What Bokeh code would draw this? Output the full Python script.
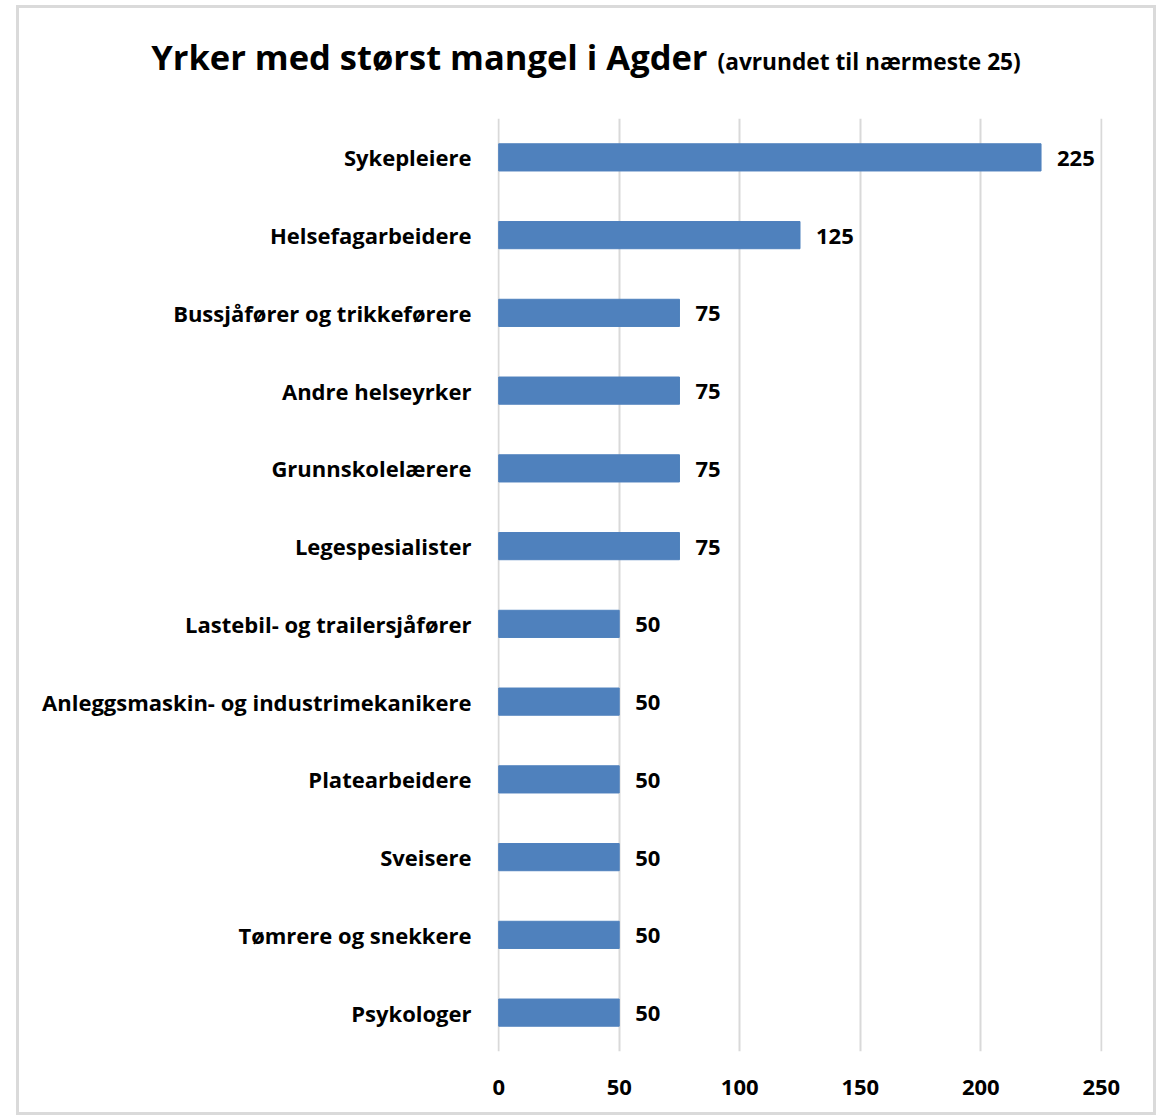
from bokeh.plotting import figure
from bokeh.layouts import column
from bokeh.models import ColumnDataSource, FactorRange, Range1d, FixedTicker, LabelSet, Div
from bokeh.core.properties import value
from bokeh.embed import file_html
from bokeh.resources import INLINE

categories = ["Sykepleiere", "Helsefagarbeidere", "Bussjåfører og trikkeførere",
              "Andre helseyrker", "Grunnskolelærere", "Legespesialister",
              "Lastebil- og trailersjåfører", "Anleggsmaskin- og industrimekanikere",
              "Platearbeidere", "Sveisere", "Tømrere og snekkere", "Psykologer"]
values = [225, 125, 75, 75, 75, 75, 50, 50, 50, 50, 50, 50]
x_ticks = [0, 50, 100, 150, 200, 250]
title_main = "Yrker med størst mangel i Agder"
title_sub = "(avrundet til nærmeste 25)"

FONT = "Open Sans"
BAR = "#4f81bd"
GRID = "#d9d9d9"
W = 1134

# ---- title ----
title_html = (
    f'<div style="width:{W}px;text-align:center;padding-top:24px;'
    f"font-family:'{FONT}';font-weight:bold;font-size:34.5px;color:#000000;white-space:nowrap;\">"
    f'{title_main}<span style="font-size:22.7px;margin-left:10px;">{title_sub}</span></div>'
)
t = Div(text=title_html, width=W, height=110, margin=0)

# ---- chart ----
source = ColumnDataSource(dict(cat=categories, val=values, lab=[str(v) for v in values]))

p = figure(width=W, height=994, output_backend="svg", toolbar_location=None,
           y_range=FactorRange(factors=list(reversed(categories)), range_padding=0),
           x_range=Range1d(-0.5, 250.5),
           min_border_left=478, min_border_right=51, min_border_top=0, min_border_bottom=61)
p.outline_line_color = None

p.hbar(y="cat", right="val", left=0, height=0.35, source=source, color=BAR)

p.add_layout(LabelSet(x="val", y="cat", text="lab", source=source, x_offset=16, y_offset=-1,
                      text_baseline="middle", text_font=value(FONT), text_font_style="bold",
                      text_font_size="22px", text_color="#000000"))

p.xaxis.ticker = FixedTicker(ticks=x_ticks)
p.xaxis.axis_line_color = None
p.xaxis.major_tick_line_color = None
p.xaxis.minor_tick_line_color = None
p.xaxis.major_label_standoff = 22
p.xaxis.major_label_text_font = FONT
p.xaxis.major_label_text_font_style = "bold"
p.xaxis.major_label_text_font_size = "22px"
p.xaxis.major_label_text_color = "#000000"

p.yaxis.axis_line_color = None
p.yaxis.major_tick_line_color = None
p.yaxis.minor_tick_line_color = None
p.yaxis.major_label_standoff = 20
p.yaxis.major_label_text_font = FONT
p.yaxis.major_label_text_font_style = "bold"
p.yaxis.major_label_text_font_size = "22px"
p.yaxis.major_label_text_color = "#000000"

p.xgrid.grid_line_color = GRID
p.xgrid.grid_line_width = 2
p.ygrid.grid_line_color = None

layout = column(t, p, spacing=0, margin=(5, 0, 0, 16),
                styles={"border": "3px solid #dadada"})

open("out.html", "w").write(file_html(layout, INLINE))
